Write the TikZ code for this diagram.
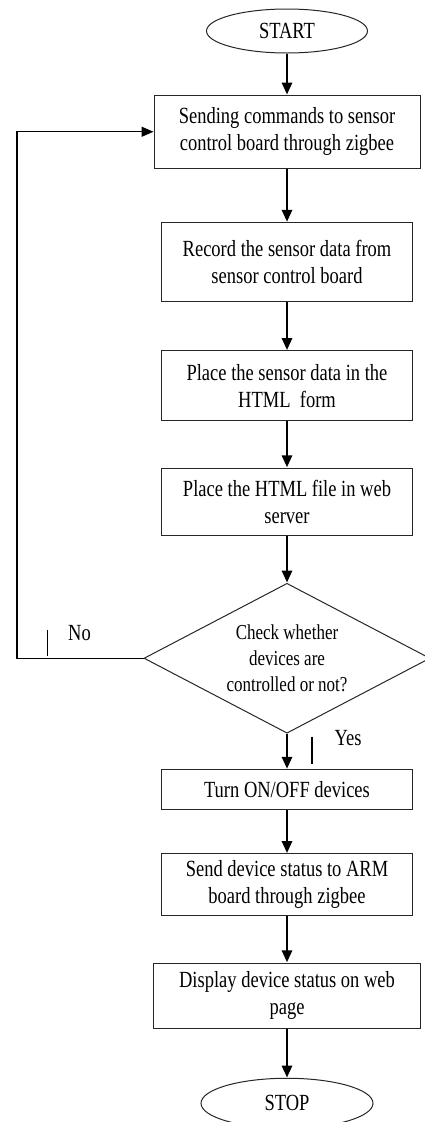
\documentclass[tikz,border=0pt]{standalone}
\usepackage{fontspec}
\setmainfont{Liberation Serif}
\usepackage{tikz}
\usetikzlibrary{arrows.meta,positioning,calc,shapes.geometric}

\begin{document}
\begin{tikzpicture}[
  x=1pt, y=1pt,
  font=\fontsize{18.5}{21.6}\selectfont,
  proc/.style={draw=black!85, line width=1pt, rectangle, align=center, inner sep=3pt, minimum width=251pt, yscale=1.25, transform shape},
  term/.style={draw=black!85, line width=1pt, ellipse, inner sep=2pt, minimum width=161pt, minimum height=35.2pt, yscale=1.25, transform shape},
  decide/.style={draw=black!85, line width=1pt, diamond, aspect=2.38, align=center, inner sep=0pt, minimum width=286pt, minimum height=120pt, font=\fontsize{17}{20.8}\selectfont, yscale=1.25, transform shape},
  label/.style={yscale=1.25, transform shape},
  arr/.style={-{Triangle[length=12pt, width=10pt]}, line width=2.7pt},
  back/.style={-{Triangle[length=12pt, width=10pt]}, line width=1.4pt},
  ynmark/.style={line width=1.2pt}
]
\useasboundingbox (0,0) rectangle (425,-1122);

\node[term] (start) at (287,-31) {START};
\node[proc, below=41pt of start, minimum width=266pt, minimum height=58.4pt] (send) {Sending commands to sensor\\control board through zigbee};
\node[proc, below=53pt of send, minimum height=63.2pt] (record) {Record the sensor data from\\sensor control board};
\node[proc, below=48pt of record, minimum height=56pt] (place) {Place the sensor data in the\\HTML\ \ form};
\node[proc, below=46pt of place, minimum height=53.6pt] (html) {Place the HTML file in web\\server};
\node[decide, below=47pt of html] (check) {Check whether\\devices are\\controlled or not?};
\node[proc, below=35pt of check, minimum height=32pt] (turn) {Turn ON/OFF devices};
\node[proc, below=43pt of turn, minimum height=49.6pt] (status) {Send device status to ARM\\board through zigbee};
\node[proc, below=46pt of status, minimum width=267pt, minimum height=52pt] (show) {Display device status on web\\page};
\node[term, below=49pt of show, minimum width=172pt, minimum height=40pt] (stop) {STOP};

\draw[arr] (start) -- (send);
\draw[arr] (send) -- (record);
\draw[arr] (record) -- (place);
\draw[arr] (place) -- (html);
\draw[arr] (html) -- (check);
\draw[arr] (check) -- (turn);
\draw[arr] (turn) -- (status);
\draw[arr] (status) -- (show);
\draw[arr] (show) -- (stop);

% loop back when not controlled
\coordinate (edge) at (17,0);
\draw[back] (check.west) -- (check.west -| edge) |- (send.west);

\node[label] (no) at ($(check.west)+(-64,25)$) {No};
\draw[ynmark] ($(check.west)+(-96,2)$) -- ++(0,26);
\node[label] (yes) at ($(check.south)+(61,-4)$) {Yes};
\draw[ynmark] ($(check.south)+(25,-3)$) -- ++(0,-27);
\end{tikzpicture}
\end{document}
